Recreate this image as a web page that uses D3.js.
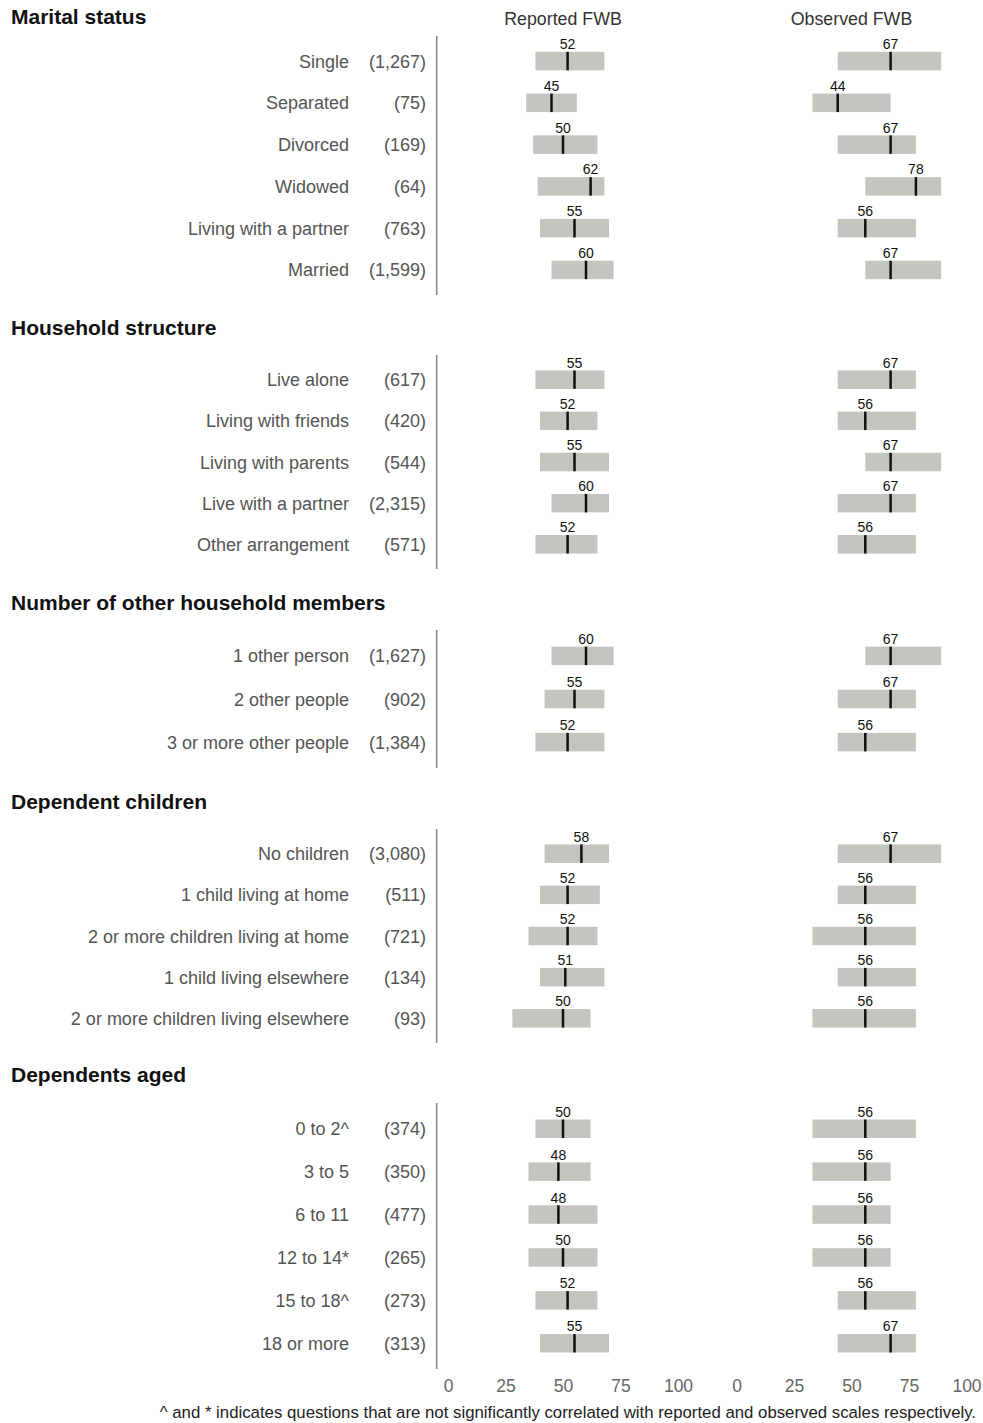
<!DOCTYPE html>
<html>
<head>
<meta charset="utf-8">
<script src="https://cdn.jsdelivr.net/npm/d3@7"></script>
<style>
  html, body { margin: 0; padding: 0; background: #fff; }
  svg { display: block; font-family: "Liberation Sans", Arial, Helvetica, sans-serif; }
</style>
</head>
<body>
<svg id="chart" width="983" height="1423"></svg>
<script>
// ---- Data ----------------------------------------------------------------
const sections = [
  "Marital status",
  "Household structure",
  "Number of other household members",
  "Dependent children",
  "Dependents aged"
];
const sectionSizes = [6, 5, 3, 5, 6];

const categories = [
  "Single", "Separated", "Divorced", "Widowed", "Living with a partner", "Married",
  "Live alone", "Living with friends", "Living with parents", "Live with a partner", "Other arrangement",
  "1 other person", "2 other people", "3 or more other people",
  "No children", "1 child living at home", "2 or more children living at home",
  "1 child living elsewhere", "2 or more children living elsewhere",
  "0 to 2^", "3 to 5", "6 to 11", "12 to 14*", "15 to 18^", "18 or more"
];
const counts = [
  1267, 75, 169, 64, 763, 1599,
  617, 420, 544, 2315, 571,
  1627, 902, 1384,
  3080, 511, 721, 134, 93,
  374, 350, 477, 265, 273, 313
];

// Reported FWB: lower quartile, median, upper quartile
const reportedLow = [38, 34, 37, 39, 40, 45,  38, 40, 40, 45, 38,  45, 42, 38,  42, 40, 35, 40, 28,  38, 35, 35, 35, 38, 40];
const reportedMed = [52, 45, 50, 62, 55, 60,  55, 52, 55, 60, 52,  60, 55, 52,  58, 52, 52, 51, 50,  50, 48, 48, 50, 52, 55];
const reportedHigh = [68, 56, 65, 68, 70, 72, 68, 65, 70, 70, 65,  72, 68, 68,  70, 66, 65, 68, 62,  62, 62, 65, 65, 65, 70];

// Observed FWB: lower quartile, median, upper quartile
const observedLow = [44, 33, 44, 56, 44, 56,  44, 44, 56, 44, 44,  56, 44, 44,  44, 44, 33, 44, 33,  33, 33, 33, 33, 44, 44];
const observedMed = [67, 44, 67, 78, 56, 67,  67, 56, 67, 67, 56,  67, 67, 56,  67, 56, 56, 56, 56,  56, 56, 56, 56, 56, 67];
const observedHigh = [89, 67, 78, 89, 78, 89, 78, 78, 89, 78, 78,  89, 78, 78,  89, 78, 78, 78, 78,  78, 67, 67, 67, 78, 78];

const xTicks = [0, 25, 50, 75, 100];
const panelTitles = ["Reported FWB", "Observed FWB"];
const footnote = "^ and * indicates questions that are not significantly correlated with reported and observed scales respectively.";

// ---- Layout --------------------------------------------------------------
const sectionLayout = [
  { header: 17,   top: 36,   bottom: 295 },
  { header: 328,  top: 355,  bottom: 569 },
  { header: 603,  top: 630,  bottom: 768 },
  { header: 802,  top: 829,  bottom: 1043 },
  { header: 1075, top: 1103, bottom: 1369 }
];

const svg = d3.select("#chart");

const xRep = d3.scaleLinear().domain([0, 100]).range([448, 678]);
const xObs = d3.scaleLinear().domain([0, 100]).range([736.5, 966.5]);

const panels = [
  { x: xRep, low: reportedLow, med: reportedMed, high: reportedHigh },
  { x: xObs, low: observedLow, med: observedMed, high: observedHigh }
];

const fmt = d3.format(",");
const barH = 18.5;

// Column titles
panelTitles.forEach((t, i) => {
  const x = panels[i].x;
  svg.append("text")
    .attr("x", (x.range()[0] + x.range()[1]) / 2)
    .attr("y", 25)
    .attr("text-anchor", "middle")
    .attr("font-size", 17.8)
    .attr("fill", "#333")
    .text(t);
});

let start = 0;
sections.forEach((name, s) => {
  const n = sectionSizes[s];
  const idx = d3.range(start, start + n);
  start += n;
  const lay = sectionLayout[s];

  const y = d3.scalePoint()
    .domain(idx)
    .range([lay.top, lay.bottom])
    .padding(0.6);

  // Section heading
  svg.append("text")
    .attr("x", 11)
    .attr("y", lay.header + 7)
    .attr("font-size", 21)
    .attr("font-weight", "bold")
    .attr("fill", "#111")
    .text(name);

  // Vertical axis line
  svg.append("line")
    .attr("x1", 436.7).attr("x2", 436.7)
    .attr("y1", lay.top).attr("y2", lay.bottom)
    .attr("stroke", "#8a8a8a")
    .attr("stroke-width", 1.6);

  const g = svg.append("g");

  // Category labels
  g.selectAll("text.cat")
    .data(idx)
    .join("text")
    .attr("class", "cat")
    .attr("x", 349)
    .attr("y", i => y(i) + 6.5)
    .attr("text-anchor", "end")
    .attr("font-size", 18)
    .attr("fill", "#555")
    .text(i => categories[i]);

  // Respondent counts
  g.selectAll("text.cnt")
    .data(idx)
    .join("text")
    .attr("class", "cnt")
    .attr("x", 426)
    .attr("y", i => y(i) + 6.5)
    .attr("text-anchor", "end")
    .attr("font-size", 18)
    .attr("fill", "#555")
    .text(i => "(" + fmt(counts[i]) + ")");

  panels.forEach(p => {
    // Interquartile bars
    g.selectAll(null)
      .data(idx)
      .join("rect")
      .attr("x", i => p.x(p.low[i]))
      .attr("width", i => p.x(p.high[i]) - p.x(p.low[i]))
      .attr("y", i => y(i) - barH / 2)
      .attr("height", barH)
      .attr("fill", "#c5c5c0");

    // Median markers
    g.selectAll(null)
      .data(idx)
      .join("line")
      .attr("x1", i => p.x(p.med[i]))
      .attr("x2", i => p.x(p.med[i]))
      .attr("y1", i => y(i) - barH / 2)
      .attr("y2", i => y(i) + barH / 2)
      .attr("stroke", "#111")
      .attr("stroke-width", 2.5);

    // Median values
    g.selectAll(null)
      .data(idx)
      .join("text")
      .attr("x", i => p.x(p.med[i]))
      .attr("y", i => y(i) - 12)
      .attr("text-anchor", "middle")
      .attr("font-size", 14)
      .attr("fill", "#111")
      .text(i => p.med[i]);
  });
});

// Bottom x axes (labels only)
panels.forEach(p => {
  const axis = d3.axisBottom(p.x).tickValues(xTicks).tickSize(0).tickPadding(0);
  const ag = svg.append("g")
    .attr("transform", "translate(0,1380)")
    .call(axis);
  ag.select(".domain").remove();
  ag.selectAll("text")
    .attr("font-size", 17.5)
    .attr("font-family", "\"Liberation Sans\", Arial, sans-serif")
    .attr("fill", "#666")
    .attr("dy", "0.71em");
});

// Footnote
svg.append("text")
  .attr("x", 976)
  .attr("y", 1418)
  .attr("text-anchor", "end")
  .attr("font-size", 16.8)
  .attr("fill", "#222")
  .text(footnote);
</script>
</body>
</html>
